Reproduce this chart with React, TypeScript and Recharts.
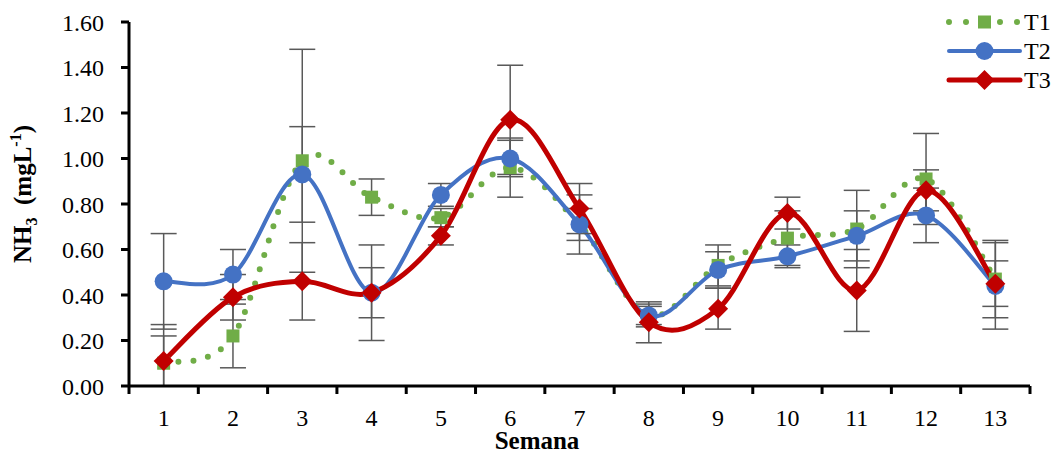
import { ErrorBar, Legend, Line, LineChart, XAxis, YAxis } from 'recharts'

const weeks = [1, 2, 3, 4, 5, 6, 7, 8, 9, 10, 11, 12, 13]
const t1 = [0.1, 0.22, 0.99, 0.83, 0.74, 0.96, 0.71, 0.31, 0.53, 0.65, 0.69, 0.91, 0.47]
const t2 = [0.46, 0.49, 0.93, 0.41, 0.84, 1.0, 0.71, 0.31, 0.51, 0.57, 0.66, 0.75, 0.44]
const t3 = [0.11, 0.39, 0.46, 0.41, 0.66, 1.17, 0.78, 0.28, 0.34, 0.76, 0.42, 0.86, 0.45]
// [below, above]; week 1 of T1 is cut at the 0 line as in the source
const t1Err = [[0.1, 0.17], 0.14, 0.49, 0.08, 0.04, 0.13, 0.13, 0.05, 0.09, 0.12, 0.17, 0.2, 0.17]
const t2Err = [0.21, 0.11, 0.21, 0.21, 0.05, 0.08, 0.07, 0.04, 0.08, 0.05, 0.11, 0.12, 0.19]
const t3Err = [0.11, 0.1, 0.17, 0.11, 0.04, 0.24, 0.11, 0.09, 0.09, 0.07, 0.18, 0.09, 0.1]
const yTicks = [0, 0.2, 0.4, 0.6, 0.8, 1.0, 1.2, 1.4, 1.6]

const data = weeks.map((w, i) => ({
	week: w,
	t1: t1[i],
	t2: t2[i],
	t3: t3[i],
	e1: t1Err[i],
	e2: t2Err[i],
	e3: t3Err[i],
}))

const W = 1058
const H = 453
const Y_AXIS_W = 129
const M_RIGHT = 28
const HALF = (W - Y_AXIS_W - M_RIGHT) / weeks.length / 2
const FONT = '"Liberation Serif", "Times New Roman", serif'

const GREEN = '#70AD47'
const BLUE = '#4472C4'
const RED = '#C00000'
const ERR = '#595959'

// Excel-like smoothing (uniform Catmull-Rom through the points)
function excelSmooth(context: any) {
	let pts: number[][] = []
	return {
		areaStart() {},
		areaEnd() {},
		lineStart() {
			pts = []
		},
		point(x: number, y: number) {
			pts.push([+x, +y])
		},
		lineEnd() {
			if (!pts.length) return
			context.moveTo(pts[0][0], pts[0][1])
			for (let i = 0; i < pts.length - 1; i++) {
				const p0 = pts[i - 1] || pts[i]
				const p1 = pts[i]
				const p2 = pts[i + 1]
				const p3 = pts[i + 2] || p2
				context.bezierCurveTo(
					p1[0] + (p2[0] - p0[0]) / 6,
					p1[1] + (p2[1] - p0[1]) / 6,
					p2[0] - (p3[0] - p1[0]) / 6,
					p2[1] - (p3[1] - p1[1]) / 6,
					p2[0],
					p2[1],
				)
			}
		},
	}
}

function Square({ cx, cy }: any) {
	if (cx == null || cy == null) return null
	return <rect x={cx - 6.5} y={cy - 6.5} width={13} height={13} fill={GREEN} />
}

function Circle({ cx, cy }: any) {
	if (cx == null || cy == null) return null
	return <circle cx={cx} cy={cy} r={9} fill={BLUE} />
}

function Diamond({ cx, cy }: any) {
	if (cx == null || cy == null) return null
	const s = 10
	return <path d={`M${cx},${cy - s}L${cx + s},${cy}L${cx},${cy + s}L${cx - s},${cy}Z`} fill={RED} />
}

function WeekTick({ x, y, payload, index }: any) {
	const last = index === weeks.length - 1
	return (
		<g>
			<line x1={x - HALF} y1={y} x2={x - HALF} y2={y + 8} stroke="#000" strokeWidth={3} />
			{last && <line x1={x + HALF} y1={y} x2={x + HALF} y2={y + 8} stroke="#000" strokeWidth={3} />}
			<text x={x} y={y + 40} textAnchor="middle" fontFamily={FONT} fontSize={24} fill="#000">
				{payload.value}
			</text>
		</g>
	)
}

function LegendBox() {
	const rows = [
		{ name: 'T1', y: 22, color: GREEN, dotted: true, mark: <rect x={978} y={15.5} width={13} height={13} fill={GREEN} /> },
		{ name: 'T2', y: 51, color: BLUE, dotted: false, mark: <circle cx={984.5} cy={51} r={9} fill={BLUE} /> },
		{ name: 'T3', y: 80, color: RED, dotted: false, mark: <path d="M984.5,70L994.5,80L984.5,90L974.5,80Z" fill={RED} /> },
	]
	return (
		<svg width={W} height={100} style={{ position: 'absolute', left: 0, top: 0, overflow: 'visible' }}>
			{rows.map((r) => (
				<g key={r.name}>
					<line
						x1={949}
						x2={1020}
						y1={r.y}
						y2={r.y}
						stroke={r.color}
						strokeWidth={r.dotted ? 6 : r.name === 'T3' ? 5 : 4}
						strokeDasharray={r.dotted ? '0 17' : undefined}
						strokeLinecap="round"
					/>
					{r.mark}
					<text x={1024} y={r.y + 8} fontFamily={FONT} fontSize={24} fill="#000">
						{r.name}
					</text>
				</g>
			))}
		</svg>
	)
}

export default function App() {
	return (
		<div style={{ position: 'fixed', left: 0, top: 0, width: W, height: H, background: '#fff' }}>
			<LineChart width={W} height={H} data={data} margin={{ top: 22, right: M_RIGHT, bottom: 22, left: 0 }}>
				<XAxis
					dataKey="week"
					type="number"
					domain={[0.5, 13.5]}
					ticks={weeks}
					interval={0}
					height={45}
					tickSize={0}
					tickMargin={0}
					tickLine={false}
					axisLine={{ stroke: '#000', strokeWidth: 3 }}
					tick={<WeekTick />}
					label={() => (
						<text x={537} y={449} textAnchor="middle" fontFamily={FONT} fontWeight="bold" fontSize={25} fill="#000">
							Semana
						</text>
					)}
				/>
				<YAxis
					width={Y_AXIS_W}
					domain={[0, 1.6]}
					ticks={yTicks}
					allowDataOverflow
					interval={0}
					tickSize={8}
					tickMargin={17}
					tickFormatter={(v: number) => v.toFixed(2)}
					tick={{ fontFamily: FONT, fontSize: 24, fill: '#000' }}
					tickLine={{ stroke: '#000', strokeWidth: 3 }}
					axisLine={{ stroke: '#000', strokeWidth: 3 }}
					label={() => (
						<text
							transform="translate(31,194) rotate(-90)"
							textAnchor="middle"
							fontFamily={FONT}
							fontWeight="bold"
							fontSize={25}
							fill="#000"
						>
							NH
							<tspan fontSize={16} dy={6}>3</tspan>
							<tspan dy={-6}>{'\u00A0\u00A0(mgL'}</tspan>
							<tspan fontSize={16} dy={-10}>-1</tspan>
							<tspan dy={10}>)</tspan>
						</text>
					)}
				/>
				<Legend content={<LegendBox />} wrapperStyle={{ position: 'absolute', left: 0, top: 0, width: W, height: 0 }} />
				<Line
					dataKey="t1"
					type={excelSmooth as any}
					stroke={GREEN}
					strokeWidth={6}
					strokeDasharray="0 15"
					strokeLinecap="round"
					dot={<Square />}
					activeDot={false}
					isAnimationActive={false}
				>
					<ErrorBar dataKey="e1" direction="y" width={13} stroke={ERR} strokeWidth={1.5} />
				</Line>
				<Line
					dataKey="t2"
					type={excelSmooth as any}
					stroke={BLUE}
					strokeWidth={4}
					dot={<Circle />}
					activeDot={false}
					isAnimationActive={false}
				>
					<ErrorBar dataKey="e2" direction="y" width={13} stroke={ERR} strokeWidth={1.5} />
				</Line>
				<Line
					dataKey="t3"
					type={excelSmooth as any}
					stroke={RED}
					strokeWidth={5}
					dot={<Diamond />}
					activeDot={false}
					isAnimationActive={false}
				>
					<ErrorBar dataKey="e3" direction="y" width={13} stroke={ERR} strokeWidth={1.5} />
				</Line>
			</LineChart>
		</div>
	)
}
